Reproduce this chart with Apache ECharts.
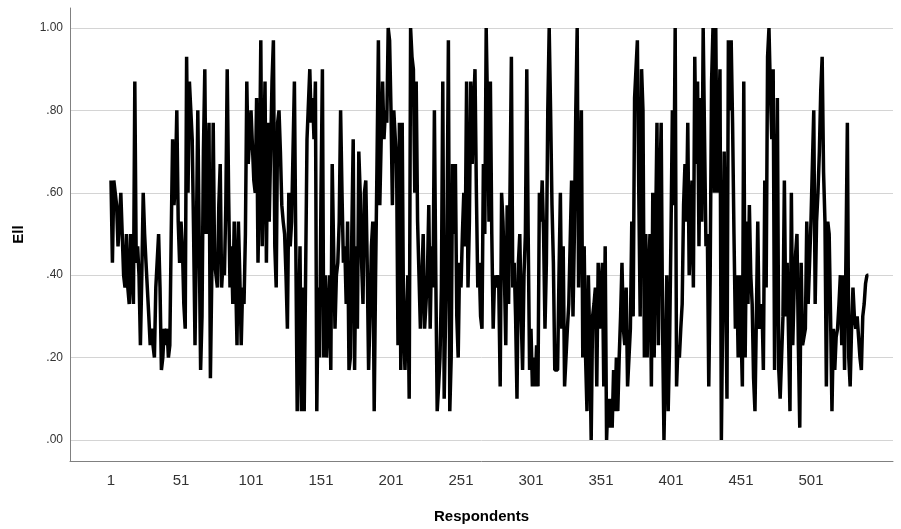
<!DOCTYPE html>
<html>
<head>
<meta charset="utf-8">
<title>Ell by respondent</title>
<script src="https://cdn.jsdelivr.net/npm/echarts@6.0.0/dist/echarts.min.js"></script>
<style>
  html, body { margin: 0; padding: 0; background: #fff; }
  #chart { width: 901px; height: 529px; }
</style>
</head>
<body>
<div id="chart"></div>
<script>
// labels on the respondent axis
var respondentTicks = [1, 51, 101, 151, 201, 251, 301, 351, 401, 451, 501]
// gridlines / labels on the Ell axis
var ellTicks = [0, 0.2, 0.4, 0.6, 0.8, 1.0]

// Ell value of each respondent (1..542)
var ell = [
  .63, .43, .63, .60, .57, .47, .53, .60, .50, .40,
  .37, .50, .37, .33, .50, .40, .33, .87, .43, .47,
  .40, .23, .40, .60, .50, .43, .43, .30, .23, .27,
  .23, .20, .37, .37, .50, .37, .17, .20, .27, .23,
  .27, .20, .23, .50, .73, .57, .63, .80, .53, .43,
  .53, .47, .33, .27, .93, .60, .87, .80, .73, .50,
  .23, .50, .80, .80, .17, .30, .70, .90, .50, .60,
  .77, .15, .40, .77, .43, .40, .37, .57, .67, .37,
  .43, .40, .57, .90, .60, .37, .47, .33, .53, .40,
  .23, .53, .40, .23, .37, .33, .50, .87, .67, .73,
  .80, .80, .63, .60, .83, .43, .63, .97, .47, .67,
  .87, .43, .77, .53, .70, .87, .97, .47, .37, .77,
  .80, .70, .57, .53, .50, .40, .27, .60, .47, .53,
  .70, .87, .47, .07, .27, .47, .07, .37, .07, .40,
  .73, .73, .90, .77, .83, .73, .87, .07, .37, .20,
  .60, .90, .20, .40, .20, .30, .40, .17, .67, .47,
  .27, .40, .43, .53, .80, .60, .43, .47, .33, .53,
  .17, .20, .50, .73, .17, .47, .27, .70, .60, .43,
  .33, .60, .63, .43, .17, .30, .47, .53, .07, .40,
  .67, .97, .57, .73, .87, .73, .80, .77, 1.0, .97,
  .80, .57, .80, .80, .67, .23, .77, .17, .77, .27,
  .17, .30, .40, .10, 1.0, .93, .90, .60, .87, .53,
  .40, .27, .27, .50, .27, .33, .40, .57, .27, .47,
  .37, .80, .40, .07, .13, .20, .37, .87, .10, .30,
  .50, .97, .07, .20, .67, .50, .67, .30, .20, .43,
  .37, .50, .60, .47, .87, .37, .53, .87, .67, .80,
  .90, .60, .37, .43, .30, .27, .67, .50, 1.0, .80,
  .53, .87, .50, .27, .40, .37, .40, .37, .13, .60,
  .53, .40, .23, .57, .33, .60, .93, .37, .43, .30,
  .10, .43, .50, .30, .17, .40, .50, .90, .50, .17,
  .27, .13, .20, .13, .23, .13, .60, .53, .63, .50,
  .27, .43, .80, 1.0, .80, .57, .43, .17, .17, .17,
  .40, .60, .27, .47, .13, .20, .27, .33, .33, .63,
  .30, .50, .80, 1.0, .37, .60, .80, .20, .47, .20,
  .07, .40, .23, .00, .30, .33, .37, .13, .43, .27,
  .37, .43, .13, .47, .00, .10, .03, .10, .03, .17,
  .07, .20, .07, .20, .30, .43, .27, .23, .37, .13,
  .20, .27, .53, .30, .83, .90, .97, .60, .30, .90,
  .80, .20, .50, .20, .40, .50, .13, .60, .20, .50,
  .77, .23, .60, .77, .27, .00, .20, .40, .07, .23,
  .50, .80, .57, 1.0, .13, .23, .20, .27, .33, .57,
  .67, .53, .77, .40, .50, .63, .37, .93, .67, .87,
  .47, .83, .53, 1.0, .73, .47, .50, .13, .40, .87,
  1.0, .60, 1.0, .60, .75, .90, .00, .33, .70, .40,
  .10, .97, .80, .97, .77, .50, .27, .40, .20, .40,
  .27, .13, .87, .20, .53, .33, .57, .40, .33, .15,
  .07, .30, .53, .27, .30, .33, .17, .63, .37, .93,
  1.0, .85, .73, .90, .17, .50, .83, .17, .10, .20,
  .30, .63, .30, .43, .25, .07, .60, .23, .37, .45,
  .50, .23, .03, .43, .23, .25, .27, .53, .33, .43,
  .53, .53, .80, .33, .53, .60, .70, .85, .93, .65,
  .53, .13, .53, .50, .30, .07, .27, .17, .25, .27,
  .33, .40, .23, .40, .17, .45, .77, .20, .13, .27,
  .37, .30, .27, .30, .25, .20, .17, .30, .33, .38,
  .40, .40
]

var font = '"Liberation Sans", Arial, sans-serif'

var chart = echarts.init(document.getElementById('chart'))

chart.setOption({
  animation: false,
  backgroundColor: '#fff',
  grid: {
    left: 70,
    right: 8,
    top: 8,
    bottom: 68
  },
  xAxis: {
    type: 'value',
    min: -28.3,
    max: 559.6,
    name: 'Respondents',
    nameLocation: 'middle',
    nameGap: 48,
    nameTextStyle: { fontFamily: font, fontSize: 15, fontWeight: 'bold', color: '#000' },
    axisLine: { onZero: false, lineStyle: { color: '#808080', width: 1 } },
    axisTick: { show: false, customValues: respondentTicks },
    splitLine: { show: false },
    axisLabel: {
      customValues: respondentTicks,
      margin: 12,
      fontFamily: font,
      fontSize: 15,
      color: '#333'
    }
  },
  yAxis: {
    type: 'value',
    min: -0.051,
    max: 1.0485,
    name: 'Ell',
    nameLocation: 'middle',
    nameGap: 44,
    nameRotate: 90,
    nameTextStyle: { fontFamily: font, fontSize: 15, fontWeight: 'bold', color: '#000' },
    axisLine: { show: true, onZero: false, lineStyle: { color: '#808080', width: 1 } },
    axisTick: { show: false, customValues: ellTicks },
    splitLine: { show: true, lineStyle: { color: '#d4d4d4', width: 1 } },
    axisLabel: {
      customValues: ellTicks,
      margin: 7,
      fontFamily: font,
      fontSize: 12,
      color: '#333',
      formatter: function (v) {
        var s = v.toFixed(2)
        return s.charAt(0) === '0' ? s.slice(1) : s
      }
    }
  },
  series: [{
    name: 'Ell',
    type: 'line',
    data: ell.map(function (v, i) { return [i + 1, v] }),
    showSymbol: false,
    symbol: 'none',
    lineStyle: { color: '#000', width: 3.5 },
    z: 3
  }]
})
</script>
</body>
</html>
